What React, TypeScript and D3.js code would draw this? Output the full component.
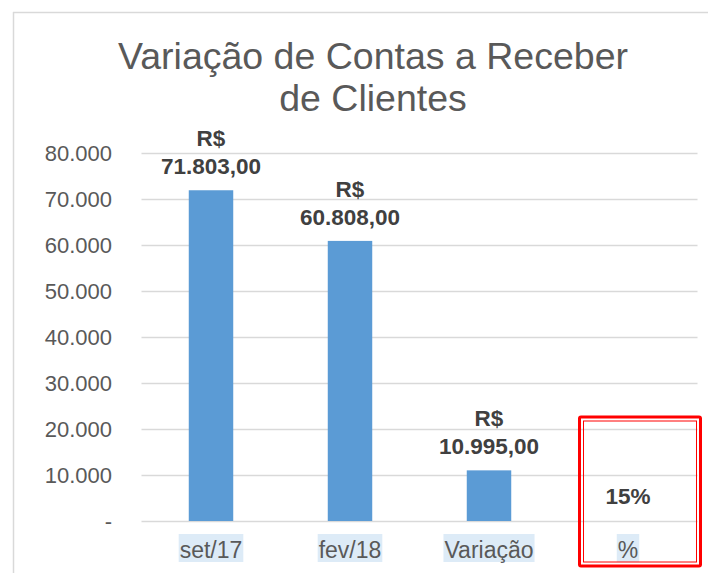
import React, { useLayoutEffect, useRef, useState } from "react";
import * as d3 from "d3";

const categories = ["set/17", "fev/18", "Variação", "%"];
const values: (number | null)[] = [71803, 60808, 10995, null];
const valueLabels = ["71.803,00", "60.808,00", "10.995,00"];
const percentLabel = "15%";
const yTicks = [0, 10000, 20000, 30000, 40000, 50000, 60000, 70000, 80000];
const yTickLabels = ["-", "10.000", "20.000", "30.000", "40.000", "50.000", "60.000", "70.000", "80.000"];
const titleLines = ["Variação de Contas a Receber", "de Clientes"];

const W = 708, H = 573;
const FONT = "'Liberation Sans', Arial, Helvetica, sans-serif";

export default function App() {
  const x = d3.scaleBand<string>().domain(categories).range([141.5, 697.5]).paddingInner(0.68).paddingOuter(0.34);
  const y = d3.scaleLinear().domain([0, 80000]).range([521, 152.5]);
  const band = d3.scaleBand<string>().domain(categories).range([141.5, 697.5]);
  const cx = (c: string) => (band(c) as number) + band.bandwidth() / 2;

  const labelRefs = useRef<(SVGTextElement | null)[]>([]);
  const [widths, setWidths] = useState<number[]>(categories.map((c) => c.length * 11.5));
  useLayoutEffect(() => {
    const w = labelRefs.current.map((el, i) => (el ? el.getComputedTextLength() : widths[i]));
    setWidths(w);
  }, []);

  return (
    <svg width={W} height={H} style={{ position: "absolute", left: 0, top: 0, display: "block" }} fontFamily={FONT}>
      <rect x={0} y={0} width={W} height={H} fill="#fff" />
      <line x1={13} y1={12.5} x2={W} y2={12.5} stroke="#d9d9d9" strokeWidth={1.5} />
      <line x1={13.5} y1={12} x2={13.5} y2={H} stroke="#d9d9d9" strokeWidth={1.5} />

      {titleLines.map((t, i) => (
        <text key={t} x={373} y={69 + i * 42} textAnchor="middle" fontSize={37.5} fill="#595959">{t}</text>
      ))}

      {yTicks.map((v, i) => (
        <g key={v}>
          <line x1={141.5} x2={697.5} y1={Math.round(y(v)) + 0.5} y2={Math.round(y(v)) + 0.5} stroke="#d9d9d9" strokeWidth={1.5} />
          <text x={112} y={y(v) + 8} textAnchor="end" fontSize={22} fill="#595959">{yTickLabels[i]}</text>
        </g>
      ))}

      {categories.map((c, i) => {
        const v = values[i];
        if (v == null) return null;
        const top = y(v);
        return (
          <g key={c}>
            <rect x={x(c)} y={top} width={x.bandwidth()} height={y(0) - top} fill="#5B9BD5" />
            <text x={cx(c)} y={top - 44} textAnchor="middle" fontSize={22.5} fontWeight="bold" fill="#404040">R$</text>
            <text x={cx(c)} y={top - 16} textAnchor="middle" fontSize={22.5} fontWeight="bold" fill="#404040">{valueLabels[i]}</text>
          </g>
        );
      })}

      <text x={cx("%")} y={504} textAnchor="middle" fontSize={22.5} fontWeight="bold" fill="#404040">{percentLabel}</text>

      {categories.map((c, i) => (
        <g key={"l" + c}>
          <rect x={cx(c) - widths[i] / 2 - 1} y={534} width={widths[i] + 2} height={28} fill="#DDEBF7" />
          <text ref={(el) => { labelRefs.current[i] = el; }} x={cx(c)} y={558} textAnchor="middle" fontSize={23} fill="#595959">{c}</text>
        </g>
      ))}

      <rect x={579.5} y={417} width={121} height={149} fill="none" stroke="#FF0000" strokeWidth={3} rx={1.5} />
      <rect x={583.5} y={421} width={113} height={141} fill="none" stroke="#FF0000" strokeWidth={1} />
    </svg>
  );
}
